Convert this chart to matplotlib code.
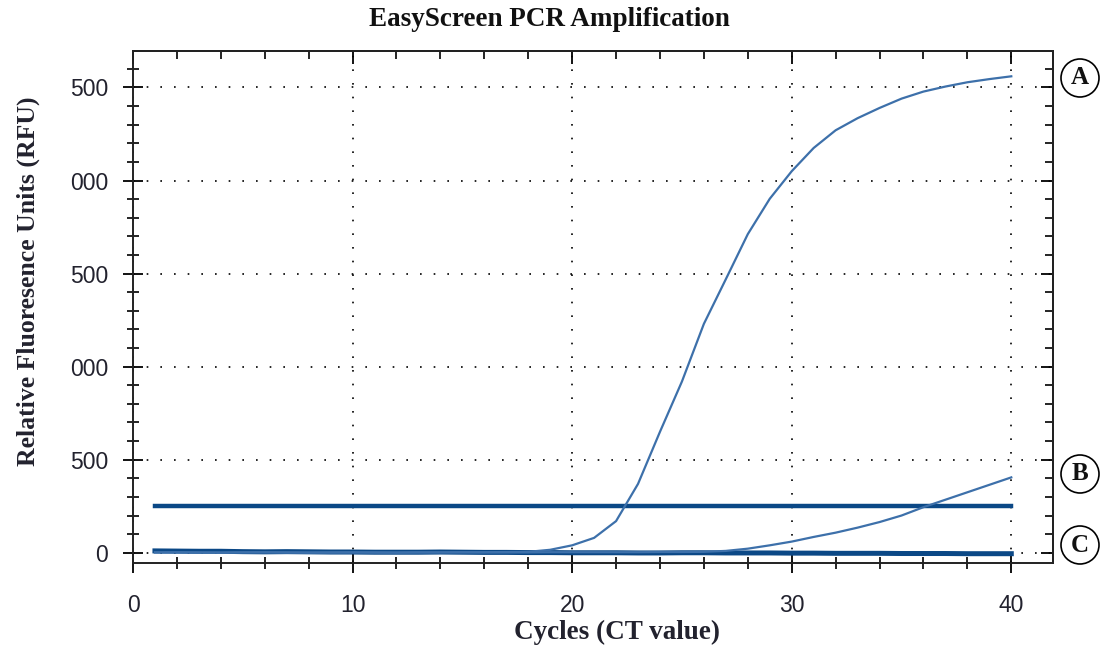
import numpy as np
import matplotlib
matplotlib.use("Agg")
import matplotlib.pyplot as plt
from matplotlib.ticker import MultipleLocator

cycles = np.arange(1, 41)

# curve A (positive sample)
rfu_a = [2, 3, 2, 1, 2, 3, 2, 1, 1, 2, 2, 1, 2, 2, 3, 3, 4, 5, 16, 40,
         80, 170, 370, 650, 920, 1230, 1470, 1712, 1902, 2050,
         2175, 2270, 2335, 2390, 2440, 2478, 2505, 2528, 2545, 2560]
# curve B (weak sample)
rfu_b = [2, 2, 1, 1, 2, 2, 1, 1, 2, 2, 1, 1, 2, 2, 2, 2, 2, 2, 3, 3,
         3, 3, 3, 4, 4, 5, 10, 22, 40, 60,
         85, 108, 135, 165, 200, 245, 285, 325, 365, 405]
# curve C (negative control)
rfu_c = [10, 9, 8, 8, 6, 5, 6, 5, 4, 4, 3, 3, 3, 4, 3, 2, 2, 1, 1, 0,
         0, 0, -1, -1, 0, 0, -1, -1, -1, -2,
         -2, -3, -3, -3, -4, -4, -4, -5, -5, -5]
threshold = 250

y_ticks = [0, 500, 1000, 1500, 2000, 2500]
y_ticklabels = ["0", "500", "000", "500", "000", "500"]  # leading digits cut off in the source
x_ticks = [0, 10, 20, 30, 40]
curve_labels = ["A", "B", "C"]

thin_col = "#3d70aa"
thick_col = "#0b4886"
text_col = "#22222e"

fig = plt.figure(figsize=(11.09, 6.46), dpi=100)
ax = fig.add_axes([133 / 1109, 1 - 563 / 646, 920 / 1109, 512 / 646])

ax.plot([cycles[0], cycles[-1]], [threshold, threshold], color=thick_col, lw=3.2, zorder=4)
ax.plot(cycles, rfu_c, color=thick_col, lw=3.6, zorder=3)
ax.plot(cycles, rfu_a, color=thin_col, lw=1.6, zorder=5)
ax.plot(cycles, rfu_b, color=thin_col, lw=1.6, zorder=5)

ax.set_xlim(0, 41.9)
ax.set_ylim(-55, 2696)
ax.set_xticks(x_ticks)
ax.set_yticks(y_ticks)
ax.set_yticklabels(y_ticklabels)
ax.xaxis.set_minor_locator(MultipleLocator(2))
ax.yaxis.set_minor_locator(MultipleLocator(100))
ax.grid(True, which="major", color="#000000", lw=1.2, linestyle=(0, (1, 7.2)))

ax.tick_params(which="major", direction="inout", length=14, width=1.3, color="black",
               labelsize=16.5, labelcolor=text_col)
ax.tick_params(axis="x", which="major", pad=15)
ax.tick_params(axis="y", which="major", pad=11)
ax.tick_params(which="minor", direction="inout", length=9, width=1.2, color="black")
for lab in ax.get_xticklabels() + ax.get_yticklabels():
    lab.set_family("Liberation Sans")

# top and right ticks point inward
top = ax.secondary_xaxis("top")
top.set_xticks(x_ticks)
top.xaxis.set_minor_locator(MultipleLocator(2))
top.tick_params(which="major", direction="in", length=9, width=1.3, labeltop=False)
top.tick_params(which="minor", direction="in", length=6, width=1.2)
right = ax.secondary_yaxis("right")
right.set_yticks(y_ticks)
right.yaxis.set_minor_locator(MultipleLocator(100))
right.tick_params(which="major", direction="in", length=9, width=1.3, labelright=False)
right.tick_params(which="minor", direction="in", length=6, width=1.2)

for sp in list(ax.spines.values()) + [top.spines["top"], right.spines["right"]]:
    sp.set_linewidth(1.4)
    sp.set_color("#222222")

serif = "Liberation Serif"
fig.text(549 / 1109, 1 - 19 / 646, "EasyScreen PCR Amplification", family=serif,
         fontweight="bold", fontsize=19.5, color="#111111", ha="center", va="center")
ax.set_xlabel("Cycles (CT value)", family=serif, fontweight="bold", fontsize=19.5, color=text_col)
ax.xaxis.set_label_coords((617 - 133) / 920, (563 - 620) / 512)
ax.set_ylabel("Relative Fluoresence Units (RFU)", family=serif, fontweight="bold",
              fontsize=18.5, color=text_col)
ax.yaxis.set_label_coords((40 - 133) / 920, (563 - 281) / 512)

label_y = [78, 474, 545]
for lab, py in zip(curve_labels, label_y):
    fig.text(1080 / 1109, 1 - py / 646, lab, family=serif, fontweight="bold", fontsize=18,
             color="#111111", ha="center", va="center",
             bbox=dict(boxstyle="circle,pad=0.3", fc="white", ec="black", lw=1.2))

fig.savefig("out.png", dpi=100)
